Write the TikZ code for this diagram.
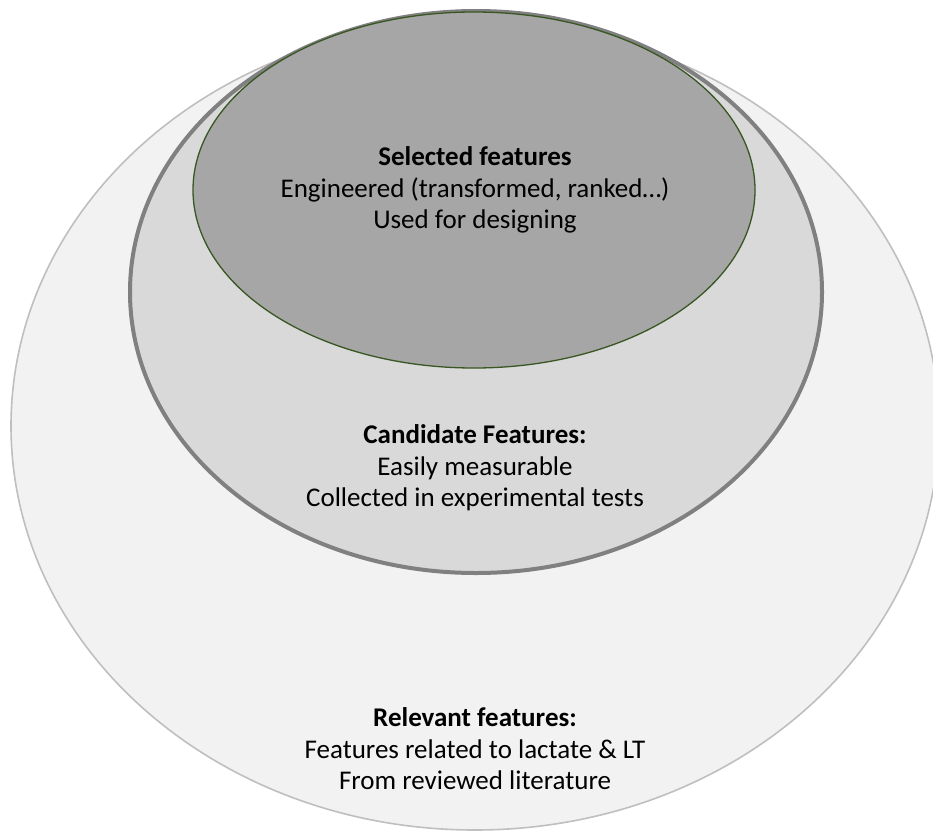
\documentclass[tikz,border=0pt]{standalone}
\usepackage{fontspec}
\setmainfont{Carlito}
\definecolor{outerfill}{HTML}{F2F2F2}
\definecolor{outerline}{HTML}{BFBFBF}
\definecolor{midfill}{HTML}{D9D9D9}
\definecolor{midline}{HTML}{808080}
\definecolor{innerfill}{HTML}{A6A6A6}
\definecolor{innerline}{HTML}{385723}
\tikzset{
  label text/.style={align=center, text=black, font=\fontsize{27}{31.5}\selectfont, inner sep=0pt}
}
\begin{document}
\begin{tikzpicture}[x=1pt, y=-1pt]
  \useasboundingbox (0,0) rectangle (933,830);
  \clip (0,0) rectangle (933,830);
  % nested feature sets
  \draw[fill=outerfill, draw=outerline, line width=1.6pt] (475,426) ellipse [x radius=464, y radius=404];
  \draw[fill=midfill, draw=midline, line width=4pt] (476,292) ellipse [x radius=346, y radius=281];
  \draw[fill=innerfill, draw=innerline, line width=1.3pt] (474,190) ellipse [x radius=281, y radius=178];
  % set descriptions
  \node[label text] (selected) at (475,190) {\textbf{Selected features}\\Engineered (transformed, ranked…)\\Used for designing};
  \node[label text] (candidate) at (475,468) {\textbf{Candidate Features:}\\Easily measurable\\Collected in experimental tests};
  \node[label text] (relevant) at (475,749) {\textbf{Relevant features:}\\Features related to lactate \& LT\\From reviewed literature};
\end{tikzpicture}
\end{document}
